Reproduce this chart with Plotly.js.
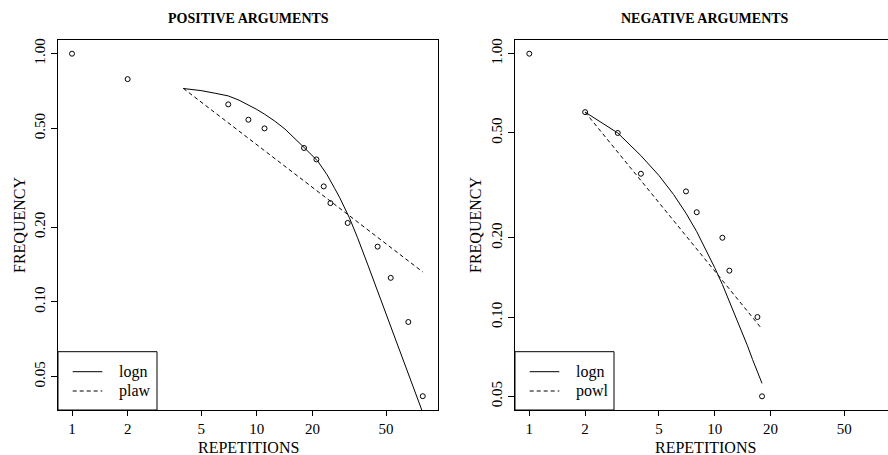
<!DOCTYPE html>
<html>
<head>
<meta charset="utf-8">
<script src="https://cdn.plot.ly/plotly-3.0.1.min.js"></script>
<style>html,body{margin:0;padding:0;background:#fff;}#chart{width:888px;height:455px;}</style>
</head>
<body>
<div id="chart"></div>
<script>
// ---- Data ----
// Positive arguments: observed frequencies
var posRep  = [1, 2, 7, 9, 11, 18, 21, 23, 25, 31, 45, 53, 66, 79];
var posFreq = [1.00, 0.79, 0.625, 0.542, 0.50, 0.417, 0.375, 0.292, 0.25, 0.208, 0.167, 0.125, 0.083, 0.0417];
// Positive: fitted lognormal curve
var posLognX = [4, 5, 6, 7, 8, 9, 10, 11, 12.5, 14.2, 16, 18, 21.3, 24, 26.4, 28, 31.6, 35, 40, 50, 60, 70, 80];
var posLognY = [0.724, 0.710, 0.692, 0.676, 0.650, 0.622, 0.596, 0.571, 0.535, 0.497, 0.458, 0.419, 0.370, 0.325, 0.286, 0.264, 0.219, 0.182, 0.140, 0.0893, 0.0621, 0.0456, 0.0349];
// Positive: fitted power law (straight dashed line)
var posPlawX = [4, 79];
var posPlawY = [0.725, 0.132];

// Negative arguments: observed frequencies
var negRep  = [1, 2, 3, 4, 7, 8, 11, 12, 17, 18];
var negFreq = [1.00, 0.60, 0.50, 0.35, 0.30, 0.25, 0.20, 0.15, 0.10, 0.05];
// Negative: fitted lognormal curve
var negLognX = [2, 3, 4, 5, 6, 7, 8, 9, 10, 11, 12, 13, 14, 15, 16, 17, 18];
var negLognY = [0.600, 0.500, 0.410, 0.345, 0.292, 0.248, 0.211, 0.180, 0.154, 0.133, 0.115, 0.100, 0.088, 0.078, 0.069, 0.062, 0.056];
// Negative: fitted power law
var negPowlX = [2, 18];
var negPowlY = [0.60, 0.090];

// Axis ticks
var xTicks = [1, 2, 5, 10, 20, 50];
var xTickText = ['1', '2', '5', '10', '20', '50'];
var yTicks = [0.05, 0.1, 0.2, 0.5, 1];
var yTickText = ['0.05', '0.10', '0.20', '0.50', '1.00'];

var titles = ['POSITIVE ARGUMENTS', 'NEGATIVE ARGUMENTS'];
var legendNames = [['logn', 'plaw'], ['logn', 'powl']];

// ---- Layout geometry (pixels) ----
var W = 888, H = 455;
var L = 58, T = 40, B = 45;
var plotW = W - L, plotH = H - T - B;
function px(x) { return (x - L) / plotW; }
function py(y) { return (H - B - y) / plotH; }

var FONT = 'Liberation Serif, Times New Roman, serif';
var black = '#000';

var mk = {symbol: 'circle-open', size: 5, color: black, line: {width: 1, color: black}};

var traces = [
  {x: posRep, y: posFreq, mode: 'markers', type: 'scatter', marker: mk, xaxis: 'x', yaxis: 'y', name: 'observed', showlegend: false},
  {x: posLognX, y: posLognY, mode: 'lines', type: 'scatter', line: {color: black, width: 1}, xaxis: 'x', yaxis: 'y', name: legendNames[0][0], showlegend: false},
  {x: posPlawX, y: posPlawY, mode: 'lines', type: 'scatter', line: {color: black, width: 1, dash: '4px,3px'}, xaxis: 'x', yaxis: 'y', name: legendNames[0][1], showlegend: false},
  {x: negRep, y: negFreq, mode: 'markers', type: 'scatter', marker: mk, xaxis: 'x2', yaxis: 'y2', name: 'observed', showlegend: false},
  {x: negLognX, y: negLognY, mode: 'lines', type: 'scatter', line: {color: black, width: 1}, xaxis: 'x2', yaxis: 'y2', name: legendNames[1][0], showlegend: false},
  {x: negPowlX, y: negPowlY, mode: 'lines', type: 'scatter', line: {color: black, width: 1, dash: '4px,3px'}, xaxis: 'x2', yaxis: 'y2', name: legendNames[1][1], showlegend: false}
];

function xax(domain, range) {
  return {type: 'log', domain: domain, range: range, tickvals: xTicks, ticktext: xTickText,
    ticks: 'outside', ticklen: 5, tickwidth: 1, tickcolor: black, showline: true, linecolor: black, linewidth: 1,
    mirror: true, showgrid: false, zeroline: false, tickfont: {family: FONT, size: 15, color: black}, fixedrange: true};
}
function yax(range, anchor, mirror) {
  return {type: 'log', range: range, anchor: anchor, tickvals: yTicks, ticktext: yTickText, tickangle: -90,
    ticks: 'outside', ticklen: 6, tickwidth: 1, tickcolor: black, showline: true, linecolor: black, linewidth: 1,
    mirror: mirror, showgrid: false, zeroline: false, tickfont: {family: FONT, size: 15, color: black}, fixedrange: true};
}

var d1 = [px(58), px(438.3)];
var d2 = [px(515), 1];

var ann = [];
var shapes = [];
var centers = [248, 705];
var yLabX = [19, 475];
var boxLeft = [58, 515];
titles.forEach(function (t, i) {
  ann.push({text: '<b>' + t + '</b>', x: px(centers[i]), y: py(19), xref: 'paper', yref: 'paper', showarrow: false,
    xanchor: 'center', yanchor: 'middle', font: {family: FONT, size: 14, color: black}});
  ann.push({text: 'REPETITIONS', x: px(centers[i]), y: py(447), xref: 'paper', yref: 'paper', showarrow: false,
    xanchor: 'center', yanchor: 'middle', font: {family: FONT, size: 16, color: black}});
  ann.push({text: 'FREQUENCY', x: px(yLabX[i]), y: py(225), xref: 'paper', yref: 'paper', showarrow: false, textangle: -90,
    xanchor: 'center', yanchor: 'middle', font: {family: FONT, size: 16, color: black}});
  var bl = boxLeft[i];
  shapes.push({type: 'rect', xref: 'paper', yref: 'paper', x0: px(bl), x1: px(bl + 99), y0: py(410), y1: py(351.7),
    line: {color: black, width: 1}, fillcolor: '#fff', layer: 'above'});
  shapes.push({type: 'line', xref: 'paper', yref: 'paper', x0: px(bl + 14.7), x1: px(bl + 44.3), y0: py(371.7), y1: py(371.7),
    line: {color: black, width: 1}});
  shapes.push({type: 'line', xref: 'paper', yref: 'paper', x0: px(bl + 14.7), x1: px(bl + 44.3), y0: py(391), y1: py(391),
    line: {color: black, width: 1, dash: '4px,3px'}});
  ann.push({text: legendNames[i][0], x: px(bl + 58.7), y: py(371.7), xref: 'paper', yref: 'paper', showarrow: false,
    xanchor: 'left', yanchor: 'middle', font: {family: FONT, size: 16, color: black}});
  ann.push({text: legendNames[i][1], x: px(bl + 58.7), y: py(391), xref: 'paper', yref: 'paper', showarrow: false,
    xanchor: 'left', yanchor: 'middle', font: {family: FONT, size: 16, color: black}});
});

var layout = {
  width: W, height: H,
  margin: {l: L, r: 0, t: T, b: B, pad: 0},
  paper_bgcolor: '#fff', plot_bgcolor: '#fff',
  showlegend: false,
  xaxis: xax(d1, [-0.0758, 1.9816]),
  yaxis: yax([-1.4355, 0.0552], 'x', true),
  xaxis2: xax(d2, [-0.0771, 1.9347]),
  yaxis2: yax([-1.353, 0.052], 'x2', false),
  annotations: ann,
  shapes: shapes
};
layout.xaxis2.anchor = 'y2';
layout.xaxis.anchor = 'y';

Plotly.newPlot('chart', traces, layout, {staticPlot: true, displayModeBar: false});
</script>
</body>
</html>
